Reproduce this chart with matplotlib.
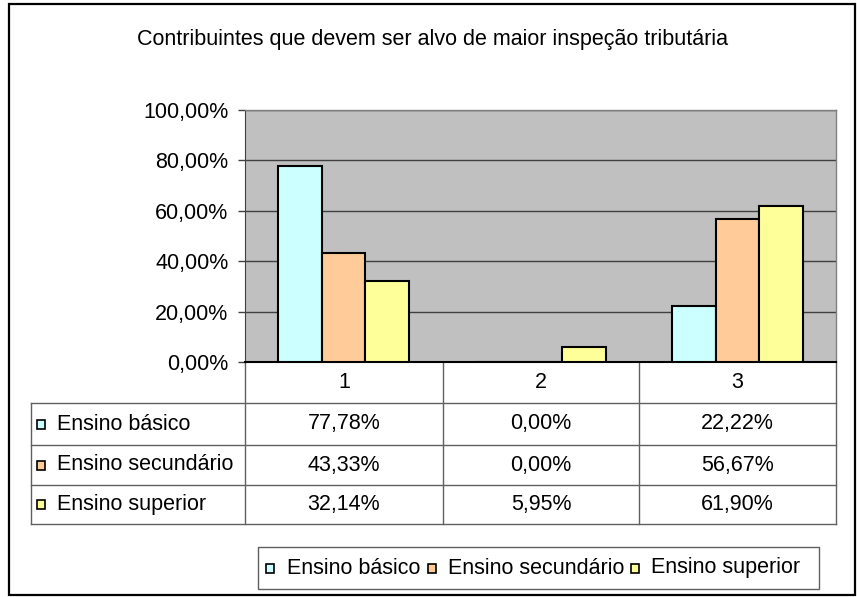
import matplotlib
matplotlib.use("Agg")
import matplotlib.pyplot as plt
import numpy as np
from matplotlib.patches import Rectangle
from matplotlib.ticker import FuncFormatter

plt.rcParams["font.family"] = ["Liberation Sans", "DejaVu Sans"]

title = "Contribuintes que devem ser alvo de maior inspeção tributária"
categories = ["1", "2", "3"]
series_names = ["Ensino básico", "Ensino secundário", "Ensino superior"]
basico = [0.7778, 0.0, 0.2222]
secundario = [0.4333, 0.0, 0.5667]
superior = [0.3214, 0.0595, 0.6190]
colors = ["#CCFFFF", "#FFCC99", "#FFFF99"]

W, H = 857, 597
FS = 15.5


def pct(v, _=None):
    return f"{v * 100:.2f}%".replace(".", ",")


fig = plt.figure(figsize=(W / 100, H / 100), dpi=100)

# overlay in pixel coordinates for the frame, title and data table
ov = fig.add_axes([0, 0, 1, 1], zorder=0)
ov.set_xlim(0, W)
ov.set_ylim(H, 0)
ov.axis("off")

# plot area (pixels): x 245..836, y 110..362
px0, px1, py0, py1 = 245, 836, 110, 362
ax = fig.add_axes([px0 / W, 1 - py1 / H, (px1 - px0) / W, (py1 - py0) / H], zorder=2)
ax.set_facecolor("#C0C0C0")

all_series = [basico, secundario, superior]
x = np.arange(len(categories))
width = 1 / 4.5
for i, vals in enumerate(all_series):
    ax.bar(x + (i - 1) * width, vals, width, color=colors[i], edgecolor="black",
           linewidth=1.5, zorder=3)

ax.set_xlim(-0.5, len(categories) - 0.5)
ax.set_ylim(0, 1)
ax.set_yticks(np.arange(0, 1.01, 0.2))
ax.yaxis.set_major_formatter(FuncFormatter(pct))
ax.set_xticks([])
ax.tick_params(axis="y", direction="out", length=5, width=1, color="#404040",
               labelsize=FS, pad=7)
ax.yaxis.grid(True, color="#404040", linewidth=1)
ax.set_axisbelow(True)
for s in ["top", "right"]:
    ax.spines[s].set_color("#808080")
    ax.spines[s].set_linewidth(1)
ax.spines["left"].set_color("#404040")
ax.spines["bottom"].set_color("black")
ax.spines["bottom"].set_linewidth(1.5)

# outer frame
ov.add_patch(Rectangle((9, 4), 846, 591, fill=False, edgecolor="black", linewidth=1.6))

# title
ov.text(433, 40, title, ha="center", va="center", fontsize=FS)

# data table
line_c = "#606060"
col_x = [245, 443, 639, 836]
row_y = [362, 403, 445, 485, 524]
tab_left = 31
for cx in col_x:
    ov.plot([cx, cx], [row_y[0], row_y[-1]], color=line_c, lw=1)
ov.plot([tab_left, tab_left], [row_y[1], row_y[-1]], color=line_c, lw=1)
for ry in row_y[1:]:
    ov.plot([tab_left, col_x[-1]], [ry, ry], color=line_c, lw=1)

for j, cat in enumerate(categories):
    cx = (col_x[j] + col_x[j + 1]) / 2
    ov.text(cx, (row_y[0] + row_y[1]) / 2, cat, ha="center", va="center", fontsize=FS)

for i, (name, vals) in enumerate(zip(series_names, all_series)):
    cy = (row_y[i + 1] + row_y[i + 2]) / 2
    ov.add_patch(Rectangle((37, cy - 4.5), 8, 9, facecolor=colors[i], edgecolor="black", lw=1.2))
    ov.text(57, cy, name, ha="left", va="center", fontsize=FS)
    for j, v in enumerate(vals):
        cx = (col_x[j] + col_x[j + 1]) / 2
        ov.text(cx, cy, pct(v), ha="center", va="center", fontsize=FS)

# legend box
ov.add_patch(Rectangle((258, 547), 561, 42, fill=False, edgecolor="#606060", lw=1))
leg_sq = [266, 428, 631]
leg_tx = [287, 448, 651]
for i, name in enumerate(series_names):
    ov.add_patch(Rectangle((leg_sq[i], 563.5), 8, 9, facecolor=colors[i], edgecolor="black", lw=1.2))
    ov.text(leg_tx[i], 568, name, ha="left", va="center", fontsize=FS)

fig.savefig("out.png", dpi=100)
